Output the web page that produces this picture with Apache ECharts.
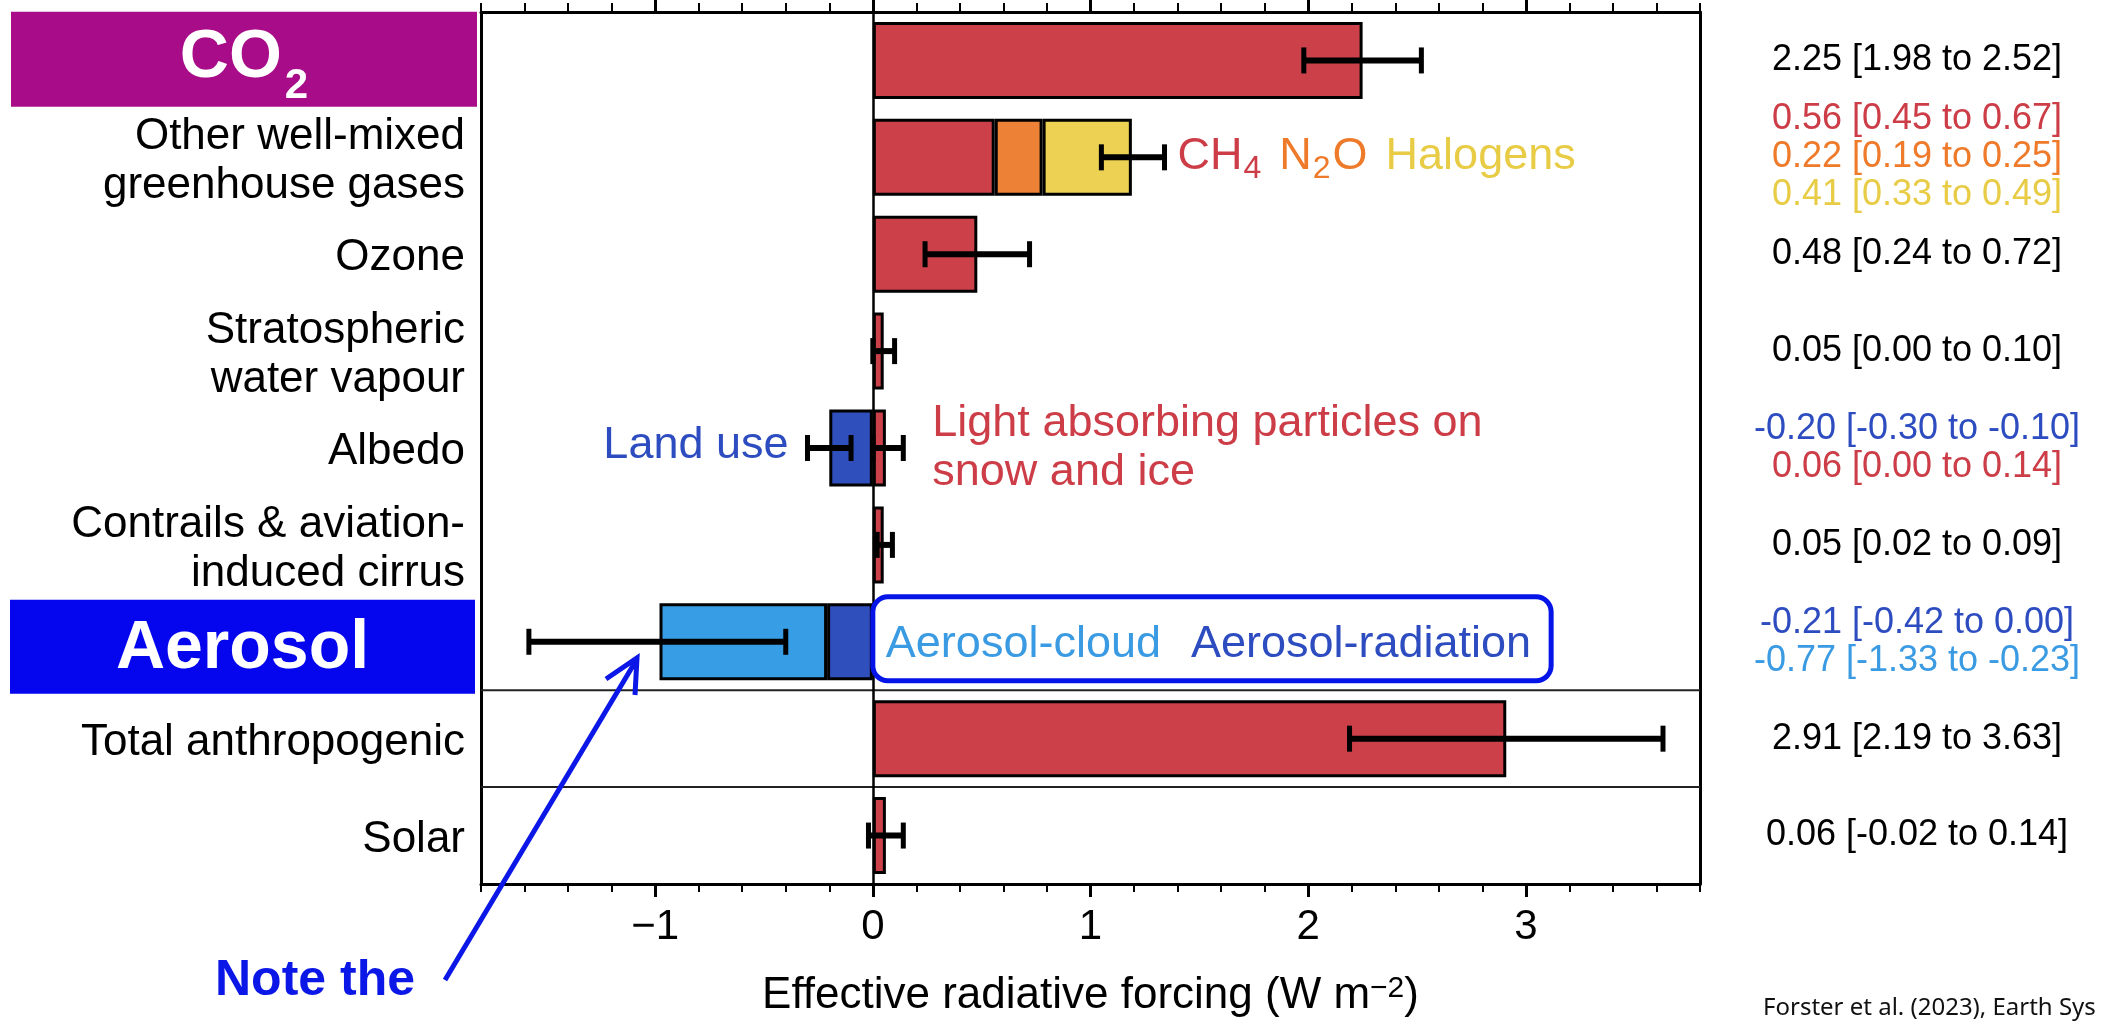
<!DOCTYPE html>
<html><head><meta charset="utf-8">
<script src="https://cdn.jsdelivr.net/npm/echarts@6/dist/echarts.min.js"></script>
<style>html,body{margin:0;padding:0;background:#fff}#c{width:2101px;height:1023px}</style>
</head><body><div id="c"></div>
<script>
// ---------------- data ----------------
const categories = ['CO2', 'Other well-mixed\ngreenhouse gases', 'Ozone', 'Stratospheric\nwater vapour', 'Albedo',
  'Contrails & aviation-\ninduced cirrus', 'Aerosol', 'Total anthropogenic', 'Solar'];

const redValues       = [2.25, 0.56, 0.48, 0.05, 0.06, 0.05, null, 2.91, 0.06];
const n2oValues       = [null, 0.22, null, null, null, null, null, null, null];
const halogenValues   = [null, 0.41, null, null, null, null, null, null, null];
const darkBlueValues  = [null, null, null, null, -0.20, null, -0.21, null, null];
const lightBlueValues = [null, null, null, null, null, null, -0.77, null, null];

const errRow  = [0, 1, 2, 3, 4, 4, 5, 6, 7, 8];
const errLow  = [1.98, 1.05, 0.24, 0.00, -0.30, 0.00, 0.02, -1.58, 2.19, -0.02];
const errHigh = [2.52, 1.34, 0.72, 0.10, -0.10, 0.14, 0.09, -0.40, 3.63, 0.14];

// right-hand value labels (central [low to high])
const compRow  = [0, 1, 1, 1, 2, 3, 4, 4, 5, 6, 6, 7, 8];
const compMid  = [2.25, 0.56, 0.22, 0.41, 0.48, 0.05, -0.20, 0.06, 0.05, -0.21, -0.77, 2.91, 0.06];
const compLow  = [1.98, 0.45, 0.19, 0.33, 0.24, 0.00, -0.30, 0.00, 0.02, -0.42, -1.33, 2.19, -0.02];
const compHigh = [2.52, 0.67, 0.25, 0.49, 0.72, 0.10, -0.10, 0.14, 0.09, 0.00, -0.23, 3.63, 0.14];
const compTone = ['k', 'r', 'o', 'y', 'k', 'k', 'b', 'r', 'k', 'b', 'c', 'k', 'k'];

const majorTicks = [-1, 0, 1, 2, 3];
const minorTicks = [-1.8, -1.6, -1.4, -1.2, -0.8, -0.6, -0.4, -0.2, 0.2, 0.4, 0.6, 0.8,
  1.2, 1.4, 1.6, 1.8, 2.2, 2.4, 2.6, 2.8, 3.2, 3.4, 3.6, 3.8];
const xMin = -1.8, xMax = 3.8;
const separatorRows = [7, 8];

// ---------------- styles ----------------
const FONT = 'Liberation Sans';
const COL = { red: '#cc4049', orange: '#ed8136', yellow: '#ecd152', dblue: '#2f4fbd', lblue: '#379ee5' };
const TXT = { k: '#000000', r: '#cc3d47', o: '#ee7a2a', y: '#e8cc46', b: '#2d4cc0', c: '#3a9be3' };

function fmt(v) { return v.toFixed(2); }
const rightRich = {};
Object.keys(TXT).forEach(k => { rightRich[k] = { color: TXT[k], fontSize: 36, lineHeight: 38, fontFamily: FONT }; });

function barSeries(name, data, color) {
  return {
    name, type: 'bar', stack: 'erf', data, barWidth: 77,
    xAxisIndex: 0, yAxisIndex: 0, z: 2,
    itemStyle: { color, borderColor: '#000', borderWidth: 3 },
    emphasis: { disabled: true }
  };
}

const xBase = { type: 'value', min: xMin, max: xMax, splitLine: { show: false }, gridIndex: 0 };

const option = {
  animation: false,
  textStyle: { fontFamily: FONT },
  grid: { left: 481, right: 401, top: 12, bottom: 136, containLabel: false },
  xAxis: [
    Object.assign({}, xBase, {
      position: 'bottom',
      axisLine: { show: true, onZero: false, lineStyle: { color: '#000', width: 3 } },
      axisTick: { show: true, customValues: majorTicks, length: 13, lineStyle: { color: '#000', width: 3 } },
      axisLabel: { show: true, customValues: majorTicks, fontSize: 42, color: '#000', margin: 22,
        formatter: v => (v < 0 ? '\u2212' + Math.abs(v) : String(v)) },
      name: 'Effective radiative forcing (W m{sup|\u22122})',
      nameLocation: 'middle', nameGap: 90,
      nameTextStyle: { fontSize: 44, color: '#000', lineHeight: 44, fontFamily: FONT,
        rich: { sup: { fontSize: 30, color: '#000', verticalAlign: 'top', lineHeight: 30, fontFamily: FONT } } }
    }),
    Object.assign({}, xBase, {
      position: 'bottom',
      axisLine: { show: false, onZero: false },
      axisTick: { show: true, customValues: minorTicks, length: 8, lineStyle: { color: '#000', width: 2 } },
      axisLabel: { show: false }
    }),
    Object.assign({}, xBase, {
      position: 'top',
      axisLine: { show: true, onZero: false, lineStyle: { color: '#000', width: 3 } },
      axisTick: { show: true, customValues: majorTicks, length: 12, lineStyle: { color: '#000', width: 3 } },
      axisLabel: { show: false }
    }),
    Object.assign({}, xBase, {
      position: 'top',
      axisLine: { show: false, onZero: false },
      axisTick: { show: true, customValues: minorTicks, length: 9, lineStyle: { color: '#000', width: 2 } },
      axisLabel: { show: false }
    })
  ],
  yAxis: [
    {
      type: 'category', data: categories, inverse: true, position: 'left',
      axisLine: { show: true, onZero: false, lineStyle: { color: '#000', width: 3 } },
      axisTick: { show: false },
      splitLine: { show: false },
      axisLabel: {
        interval: 0, margin: 16, fontSize: 44, lineHeight: 49, color: '#000', align: 'right',
        rich: { l: { fontSize: 44, lineHeight: 49, color: '#000', fontFamily: FONT, padding: [8, 0, 0, 0] } },
        formatter: v => (v === 'CO2' || v === 'Aerosol') ? '' : v.split('\n').map(s => '{l|' + s + '}').join('\n')
      }
    },
    {
      type: 'category', data: categories, inverse: true, position: 'right',
      axisLine: { show: true, onZero: false, lineStyle: { color: '#000', width: 3 } },
      axisTick: { show: false },
      splitLine: { show: false },
      axisLabel: {
        interval: 0, margin: 217, align: 'center', rich: rightRich,
        formatter: (v, idx) => {
          const lines = [];
          compRow.forEach((r, i) => {
            if (r === idx) lines.push('{' + compTone[i] + '|' + fmt(compMid[i]) + ' [' + fmt(compLow[i]) + ' to ' + fmt(compHigh[i]) + ']}');
          });
          return lines.join('\n');
        }
      }
    }
  ],
  series: [
    Object.assign(barSeries('Main', redValues, COL.red), {
      markLine: {
        silent: true, symbol: ['none', 'none'], label: { show: false },
        lineStyle: { color: '#000', width: 2.5, type: 'solid' },
        emphasis: { disabled: true },
        data: [{ xAxis: 0 }]
      }
    }),
    barSeries('N2O', n2oValues, COL.orange),
    barSeries('Halogens', halogenValues, COL.yellow),
    barSeries('Land use / Aerosol-radiation', darkBlueValues, COL.dblue),
    barSeries('Aerosol-cloud', lightBlueValues, COL.lblue),
    {
      type: 'custom', name: 'separators', xAxisIndex: 0, yAxisIndex: 0, z: 1, silent: true,
      data: separatorRows.map(r => [0, r]),
      encode: { x: 0, y: 1 },
      renderItem: (params, api) => {
        const c = api.coord([0, api.value(1)]);
        const band = api.size([0, 1])[1];
        const y = c[1] - band / 2;
        const cs = params.coordSys;
        return { type: 'line', shape: { x1: cs.x, y1: y, x2: cs.x + cs.width, y2: y },
          style: { stroke: '#222', lineWidth: 2 } };
      }
    },
    {
      type: 'custom', name: 'uncertainty', xAxisIndex: 0, yAxisIndex: 0, z: 6, silent: true,
      data: errRow.map((r, i) => [errLow[i], errHigh[i], r]),
      encode: { x: [0, 1], y: 2 },
      renderItem: (params, api) => {
        const row = api.value(2);
        const a = api.coord([api.value(0), row]);
        const b = api.coord([api.value(1), row]);
        const h = 13;
        return { type: 'group', children: [
          { type: 'line', shape: { x1: a[0], y1: a[1], x2: b[0], y2: b[1] }, style: { stroke: '#000', lineWidth: 6 } },
          { type: 'line', shape: { x1: a[0], y1: a[1] - h, x2: a[0], y2: a[1] + h }, style: { stroke: '#000', lineWidth: 5 } },
          { type: 'line', shape: { x1: b[0], y1: b[1] - h, x2: b[0], y2: b[1] + h }, style: { stroke: '#000', lineWidth: 5 } }
        ] };
      }
    }
  ]
};

const chart = echarts.init(document.getElementById('c'), null, { renderer: 'canvas' });
chart.setOption(option);

// ---------------- annotations (anchored to the axes) ----------------
const mctx = document.createElement('canvas').getContext('2d');
function tw(t, size, weight) { mctx.font = (weight || 'normal') + ' ' + size + 'px "' + FONT + '"'; return mctx.measureText(t).width; }
const rowY = r => chart.convertToPixel({ gridIndex: 0 }, [0, r])[1];
const xPx = v => chart.convertToPixel({ gridIndex: 0 }, [v, 0])[0];
const DY = 5; // small baseline correction

function txt(t, x, baseline, size, color, weight, family) {
  return { type: 'text', x: x, y: baseline - 0.3465 * size, z: 100, silent: true,
    style: { text: t, fill: color, fontSize: size, fontWeight: weight || 'normal', fontFamily: family || FONT,
      align: 'left', verticalAlign: 'middle', textAlign: 'left', textVerticalAlign: 'middle' } };
}
function seq(x, baseline, parts) {
  const out = []; let cx = x;
  parts.forEach(p => {
    if (p.t.trim() !== '') out.push(txt(p.t, cx, baseline + (p.dy || 0), p.size, p.color, p.weight));
    cx += tw(p.t, p.size, p.weight) + (p.gap || 0);
  });
  return { els: out, end: cx };
}

const els = [];
const axisLeft = xPx(xMin);
const x0 = xPx(0);

// CO2 box
{
  const cy = rowY(0);
  const bx = 11, bw = axisLeft - 4 - bx;
  els.push({ type: 'rect', z: 99, silent: true, shape: { x: bx, y: cy - 48.6, width: bw, height: 95 }, style: { fill: '#a80c88' } });
  const w1 = tw('CO', 68, 'bold'), w2 = tw('2', 42, 'bold');
  const sx = bx + bw / 2 - (w1 + 3 + w2) / 2;
  els.push(txt('CO', sx, cy + 21.5, 68, '#fff', 'bold'));
  els.push(txt('2', sx + w1 + 3, cy + 40.5, 42, '#fff', 'bold'));
}
// Aerosol box
{
  const cy = rowY(6);
  const bx = 10, bw = axisLeft - 6 - bx;
  els.push({ type: 'rect', z: 99, silent: true, shape: { x: bx, y: cy - 42, width: bw, height: 94 }, style: { fill: '#0505ee' } });
  const w = tw('Aerosol', 68, 'bold');
  els.push(txt('Aerosol', bx + bw / 2 - w / 2, cy + 31, 68, '#fff', 'bold'));
}
// CH4 N2O Halogens
{
  const s = seq(xPx(errHigh[1]) + 13, rowY(1) + 9.5 + DY, [
    { t: 'CH', size: 45, color: TXT.r, gap: 1 },
    { t: '4', size: 32, color: TXT.r, dy: 8, gap: 18 },
    { t: 'N', size: 45, color: TXT.o, gap: 1 },
    { t: '2', size: 32, color: TXT.o, dy: 8, gap: 2 },
    { t: 'O', size: 45, color: TXT.o, gap: 18 },
    { t: 'Halogens', size: 45, color: TXT.y }
  ]);
  els.push(...s.els);
}
// Light absorbing particles / Land use
{
  const cy = rowY(4), lx = xPx(errHigh[5]) + 29;
  els.push(txt('Light absorbing particles on', lx, cy - 14 + DY, 45, TXT.r));
  els.push(txt('snow and ice', lx, cy + 35 + DY, 45, TXT.r));
  const w = tw('Land use', 45);
  els.push(txt('Land use', xPx(errLow[4]) - 19 - w, cy + 11.5 + 2, 45, TXT.b));
}
// Aerosol-cloud / Aerosol-radiation box
{
  const cy = rowY(6);
  const w1 = tw('Aerosol-cloud', 45), w2 = tw('Aerosol-radiation', 45);
  const bw = 13 + w1 + 30 + w2 + 20;
  els.push({ type: 'rect', z: 98, silent: true, shape: { x: x0, y: cy - 45, width: bw, height: 84, r: 15 },
    style: { fill: '#fff', stroke: '#0515e8', lineWidth: 5 } });
  els.push(txt('Aerosol-cloud', x0 + 13, cy + 13 + DY, 45, TXT.c));
  els.push(txt('Aerosol-radiation', x0 + 13 + w1 + 30, cy + 13 + DY, 45, TXT.b));
}
// "Note the" + arrow
els.push(txt('Note the', 215, 999, 50, '#0b17e6', 'bold'));
els.push({ type: 'polyline', z: 100, silent: true, shape: { points: [[445, 980], [637, 659]] },
  style: { stroke: '#0b17e6', lineWidth: 5, fill: null } });
els.push({ type: 'polyline', z: 100, silent: true, shape: { points: [[606, 679], [637, 658], [635, 695]] },
  style: { stroke: '#0b17e6', lineWidth: 5, fill: null, lineJoin: 'miter' } });
// citation
els.push(txt('Forster et al. (2023), Earth Sys', 1763, 1016, 24, '#111', 'normal', 'Noto Sans'));

chart.setOption({ graphic: { elements: els } });
</script>
</body></html>
